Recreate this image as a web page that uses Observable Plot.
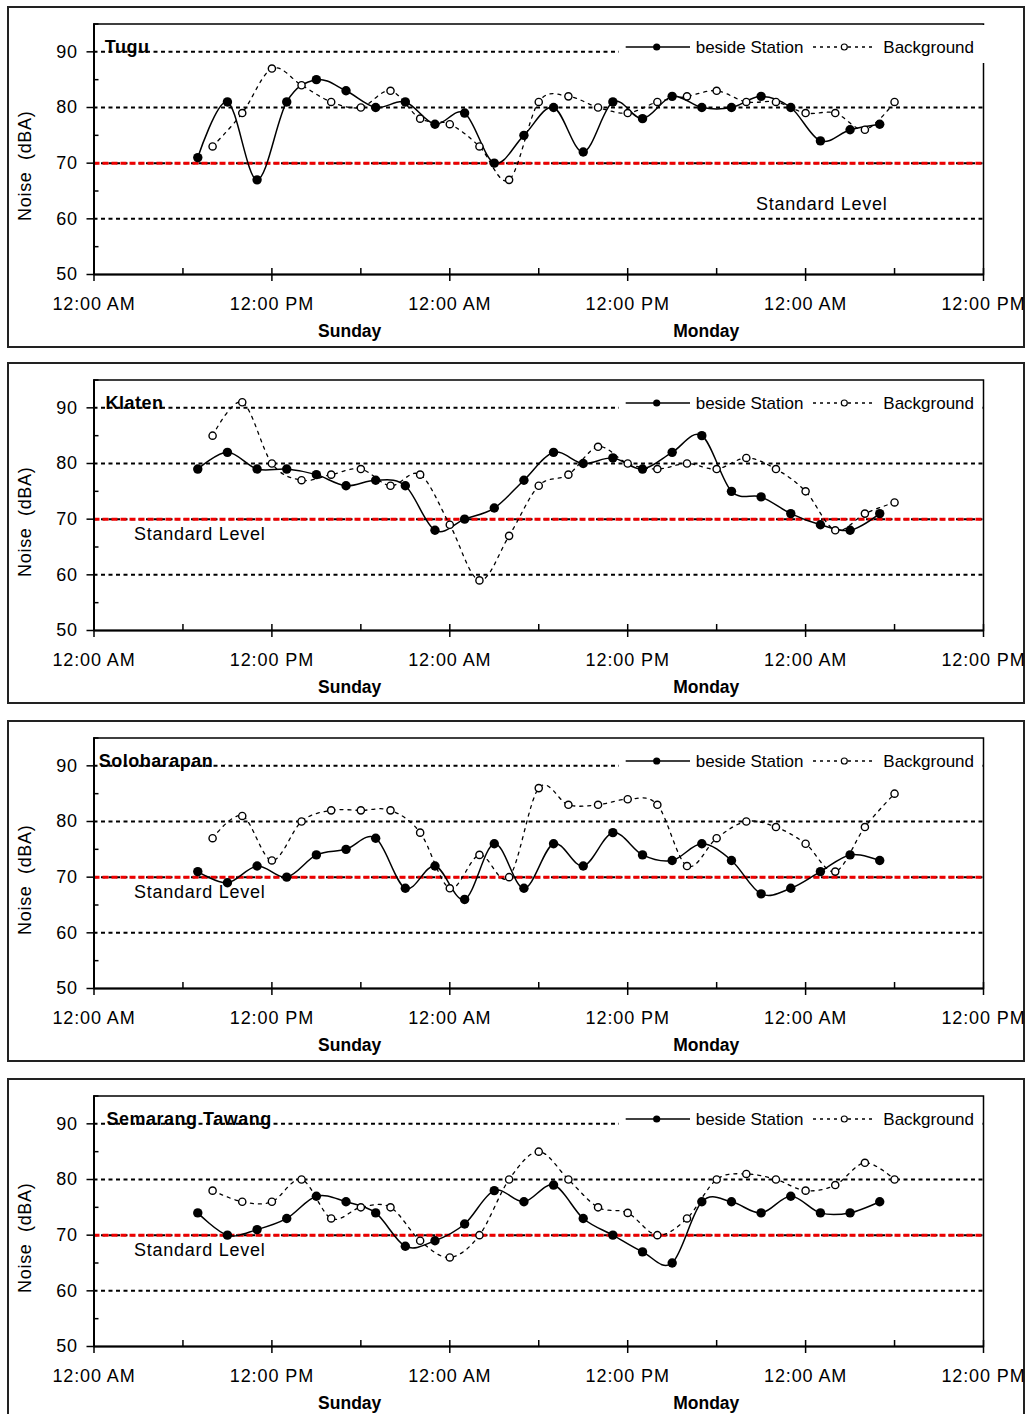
<!DOCTYPE html>
<html><head><meta charset="utf-8">
<script src="https://cdn.jsdelivr.net/npm/d3@7"></script>
<script src="https://cdn.jsdelivr.net/npm/@observablehq/plot@0.6"></script>
<style>
body{margin:0;background:#fff;font-family:Arial,"Liberation Sans",sans-serif;}
#root{position:relative;width:1027px;height:1414px;overflow:hidden;background:#fff;}
.panel{position:absolute;left:0;width:1027px;height:350px;}
.border{position:absolute;left:7px;top:0;width:1018px;height:342px;border:2px solid #222;box-sizing:border-box;}
.panel > svg{position:absolute;left:0;top:0;}
.panel > svg g[aria-label="x-axis tick label"] text{letter-spacing:0.9px;}
.panel > svg g[aria-label="y-axis tick label"] text{letter-spacing:0.9px;}
.legend{position:absolute;left:619px;top:19px;height:38px;background:#fff;}
.legend svg{display:block;}
</style></head><body><div id="root"></div>
<script>
// ---------- data ----------
const stations = ["Tugu", "Klaten", "Solobarapan", "Semarang Tawang"];
// hours since 12:00 AM Saturday
const hoursBeside = [7,9,11,13,15,17,19,21,23,25,27,29,31,33,35,37,39,41,43,45,47,49,51,53];
const hoursBackground = [8,10,12,14,16,18,20,22,24,26,28,30,32,34,36,38,40,42,44,46,48,50,52,54];

const besideTugu = [71,81,67,81,85,83,80,81,77,79,70,75,80,72,81,78,82,80,80,82,80,74,76,77];
const backgroundTugu = [73,79,87,84,81,80,83,78,77,73,67,81,82,80,79,81,82,83,81,81,79,79,76,81];

const besideKlaten = [79,82,79,79,78,76,77,76,68,70,72,77,82,80,81,79,82,85,75,74,71,69,68,71];
const backgroundKlaten = [85,91,80,77,78,79,76,78,69,59,67,76,78,83,80,79,80,79,81,79,75,68,71,73];

const besideSolobarapan = [71,69,72,70,74,75,77,68,72,66,76,68,76,72,78,74,73,76,73,67,68,71,74,73];
const backgroundSolobarapan = [77,81,73,80,82,82,82,78,68,74,70,86,83,83,84,83,72,77,80,79,76,71,79,85];

const besideSemarang = [74,70,71,73,77,76,74,68,69,72,78,76,79,73,70,67,65,76,76,74,77,74,74,76];
const backgroundSemarang = [78,76,76,80,73,75,75,69,66,70,80,85,80,75,74,70,73,80,81,80,78,79,83,80];

const besideSeries = [besideTugu, besideKlaten, besideSolobarapan, besideSemarang];
const backgroundSeries = [backgroundTugu, backgroundKlaten, backgroundSolobarapan, backgroundSemarang];

const seriesNames = ["beside Station", "Background"];
const xTickValues = [0, 12, 24, 36, 48, 60];
const xTickLabels = ["12:00 AM", "12:00 PM", "12:00 AM", "12:00 PM", "12:00 AM", "12:00 PM"];
const xMinorTicks = [6, 18, 30, 42, 54];
const yTickValues = [50, 60, 70, 80, 90];
const yMinorTicks = [55, 65, 75, 85, 95];
const gridLevels = [60, 70, 80, 90];
const standardLevel = 70;
const dayLabels = ["Sunday", "Monday"];
const dayLabelHours = [17.25, 41.3];
const yLabel = "Noise\u00a0 (dBA)";
const standardLabel = "Standard Level";

// ---------- layout ----------
const panelTops = [6, 362, 720, 1078];
const titleDx = [10.8, 11.5, 4.8, 12.5];
const stdPos = [{dx: 662, dy: 186}, {dx: 40, dy: 160.3}, {dx: 40, dy: 160.3}, {dx: 40, dy: 160.3}];
const legendWidths = [366, 362.5, 362.5, 362.5];

const W = 1027, H = 350, mL = 93.5, mR = 44, mT = 17.5, mB = 82;
const fw = W - mL - mR, fh = H - mT - mB;
const FONT = "Arial, 'Liberation Sans', sans-serif";

const root = document.getElementById("root");

stations.forEach((name, k) => {
  const beside = hoursBeside.map((h, i) => ({h, v: besideSeries[k][i]}));
  const background = hoursBackground.map((h, i) => ({h, v: backgroundSeries[k][i]}));

  const chart = Plot.plot({
    width: W, height: H,
    marginLeft: mL, marginRight: mR, marginTop: mT, marginBottom: mB,
    x: {domain: [0, 60]},
    y: {domain: [50, 95]},
    style: {fontFamily: FONT, background: "transparent", color: "#000", overflow: "visible"},
    marks: [
      Plot.ruleY(gridLevels, {stroke: "#000", strokeWidth: 2, strokeDasharray: "4,3.5"}),
      Plot.ruleY([standardLevel], {stroke: "#ee0000", strokeWidth: 3, strokeDasharray: "6,3"}),
      Plot.frame({stroke: "#000", strokeWidth: 1.5}),
      Plot.ruleX([0], {stroke: "#000", strokeWidth: 2}),
      Plot.ruleY([50], {stroke: "#000", strokeWidth: 2}),
      Plot.tickY(yTickValues, {stroke: "#000", strokeWidth: 1.5, insetLeft: -7, insetRight: fw}),
      Plot.tickY(yMinorTicks, {stroke: "#000", strokeWidth: 1.5, insetLeft: 0, insetRight: fw - 5}),
      Plot.tickX(xTickValues, {stroke: "#000", strokeWidth: 1.5, insetTop: fh - 6, insetBottom: -7}),
      Plot.tickX(xMinorTicks, {stroke: "#000", strokeWidth: 1.5, insetTop: fh - 6, insetBottom: 0}),
      Plot.axisY({ticks: yTickValues, tickSize: 0, tickPadding: 16, fontSize: 18, label: null}),
      Plot.axisX({ticks: xTickValues, tickSize: 0, tickPadding: 23, fontSize: 18, label: null,
        tickFormat: d => xTickLabels[xTickValues.indexOf(d)]}),
      Plot.line(background, {x: "h", y: "v", curve: "cardinal", stroke: "#000", strokeWidth: 1.3, strokeDasharray: "3,5"}),
      Plot.line(beside, {x: "h", y: "v", curve: "cardinal", stroke: "#000", strokeWidth: 1.5}),
      Plot.dot(background, {x: "h", y: "v", r: 3.6, fill: "#fff", stroke: "#000", strokeWidth: 1.4}),
      Plot.dot(beside, {x: "h", y: "v", r: 4.7, fill: "#000", stroke: "none"}),
      Plot.text([name], {frameAnchor: "top-left", dx: titleDx[k], dy: (95 - 90) * fh / 45 + 1,
        textAnchor: "start", lineAnchor: "bottom", fontWeight: "bold", fontSize: 18, fill: "#000"}),
      Plot.text([standardLabel], {frameAnchor: "top-left", dx: stdPos[k].dx, dy: stdPos[k].dy,
        textAnchor: "start", lineAnchor: "bottom", fontSize: 18, fill: "#000"}),
      Plot.text(dayLabels, {x: dayLabelHours, frameAnchor: "bottom", dy: 56.4, lineAnchor: "middle",
        fontWeight: "bold", fontSize: 17.5, fill: "#000"}),
      Plot.text([yLabel], {frameAnchor: "left", dx: -68.5, dy: 16.5, rotate: -90, textAnchor: "middle",
        lineAnchor: "middle", fontSize: 18, fill: "#000"})
    ]
  });

  // letter spacing tweaks for the wide Excel-style text
  const spacing = new Map([[standardLabel, "0.75px"], [yLabel, "0.7px"], [name, "0.5px"]]);
  d3.select(chart).selectAll("text").each(function () {
    const s = spacing.get(this.textContent);
    if (s) this.setAttribute("letter-spacing", s);
  });

  const panel = document.createElement("div");
  panel.className = "panel";
  panel.style.top = panelTops[k] + "px";
  const border = document.createElement("div");
  border.className = "border";
  panel.appendChild(border);
  panel.appendChild(chart);

  const legend = document.createElement("div");
  legend.className = "legend";
  legend.style.width = legendWidths[k] + "px";
  legend.innerHTML = `<svg width="${legendWidths[k]}" height="38" font-family="${FONT}" font-size="17">
    <line x1="6.7" x2="71" y1="22" y2="22" stroke="#000" stroke-width="1.3"/>
    <circle cx="37.7" cy="22" r="3.6" fill="#000"/>
    <text x="76.7" y="28" fill="#000">${seriesNames[0]}</text>
    <line x1="194" x2="256" y1="22" y2="22" stroke="#000" stroke-width="1.3" stroke-dasharray="3,4"/>
    <circle cx="225.3" cy="22" r="3" fill="#fff" stroke="#000" stroke-width="1.2"/>
    <text x="264.3" y="28" fill="#000">${seriesNames[1]}</text>
  </svg>`;
  panel.appendChild(legend);
  root.appendChild(panel);
});
</script></body></html>
